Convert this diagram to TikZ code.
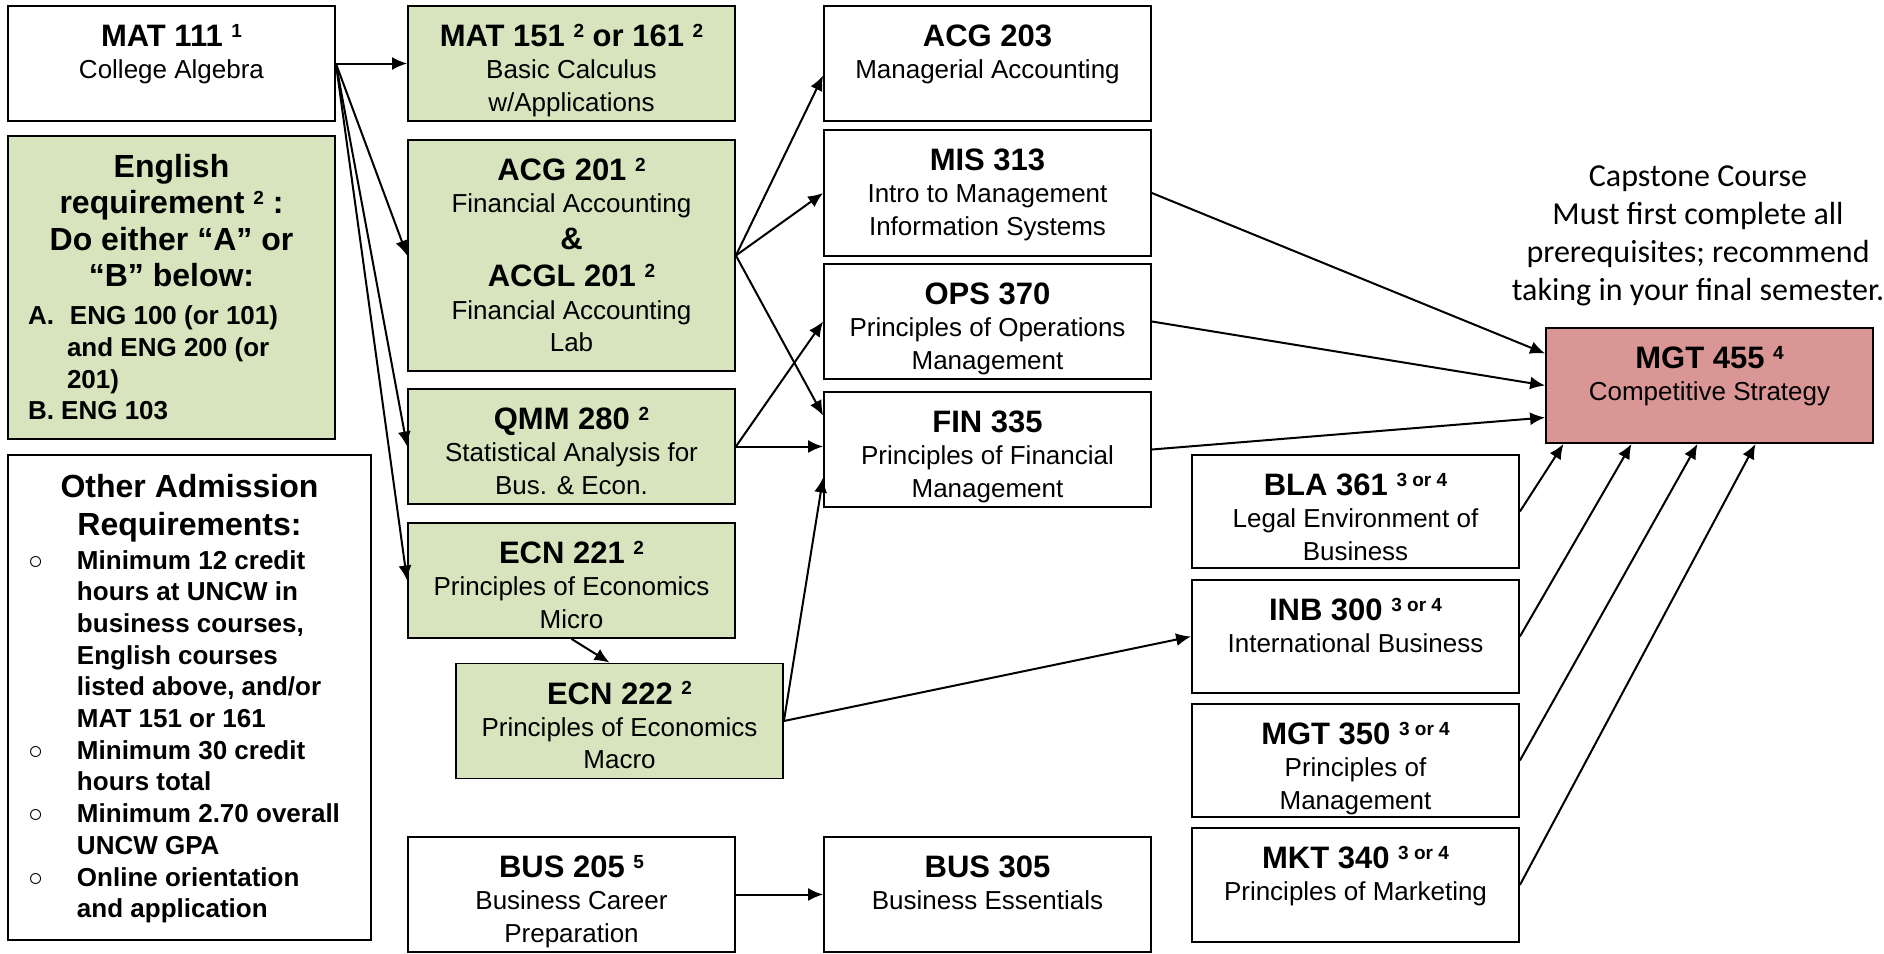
\documentclass[tikz,border=0pt]{standalone}
\usepackage{fontspec}
\setmainfont{Liberation Sans}
\newfontfamily\capfont{Carlito}
\usepackage{tikz}
\usetikzlibrary{arrows.meta}

\definecolor{reqgreen}{HTML}{D7E4BD}
\definecolor{capred}{HTML}{D99694}

% bold course code, superscript note, course box text
\newcommand{\ttl}{\fontsize{15.5}{16.2}\selectfont\bfseries}
\newcommand{\fn}[1]{\ \raisebox{4.6pt}{\fontsize{9.5}{9.5}\selectfont\bfseries #1}}
\newcommand{\course}[3][57.5pt]{\parbox[c][#1][t]{163.5pt}{\centering\fontsize{13}{16.2}\selectfont
  \rule{0pt}{20.25pt}{\ttl #2}\\ #3}}
\newcommand{\blt}{\makebox[24.5pt][l]{\mdseries\fontsize{12.5}{12.5}\selectfont ○}}

\begin{document}
\begin{tikzpicture}[->, >={Latex[length=7.5pt,width=6.5pt]}, line width=1pt, x=0.5pt, y=-0.5pt]
      \tikzstyle{course}=[draw, line width=0.9pt, inner sep=0pt, fill=white]
      \tikzstyle{core}=[course, fill=reqgreen]
      \tikzstyle{capstone}=[course, fill=capred]
      \useasboundingbox (0,0) rectangle (1884,953);

      % first column
      \node[course] (mat111) at (171.5,63.5) {\course{MAT 111\fn{1}}{College Algebra}};
      \node[core] (eng) at (171.5,287.5) {\parbox[c][151.5pt][t]{163.5pt}{\bfseries
        {\centering\fontsize{16}{18.3}\selectfont\rule{0pt}{20.5pt}English\\ requirement\fn{2} :\\ Do either “A” or\\ “B” below:\par}
        {\raggedright\fontsize{13}{15.8}\selectfont\vspace{3.2pt}
        \hspace*{10pt}A.\hspace{8pt}ENG 100 (or 101)\\ \hspace*{29.5pt}and ENG 200 (or\\ \hspace*{29.5pt}201)\\ \hspace*{10pt}B. ENG 103\par}}};
      \node[course] (other) at (189.5,697.5) {\parbox[c][242.5pt][t]{181.5pt}{\bfseries
        {\centering\fontsize{16}{19}\selectfont\rule{0pt}{21pt}Other Admission\\ Requirements:\par}
        {\raggedright\fontsize{13}{15.85}\selectfont\vspace{1.15pt}
        \hspace*{10pt}\blt Minimum 12 credit\\ \hspace*{34.5pt}hours at UNCW in\\ \hspace*{34.5pt}business courses,\\
        \hspace*{34.5pt}English courses\\ \hspace*{34.5pt}listed above, and/or\\ \hspace*{34.5pt}MAT 151 or 161\\
        \hspace*{10pt}\blt Minimum 30 credit\\ \hspace*{34.5pt}hours total\\
        \hspace*{10pt}\blt Minimum 2.70 overall\\ \hspace*{34.5pt}UNCW GPA\\
        \hspace*{10pt}\blt Online orientation\\ \hspace*{34.5pt}and application\par}}};

      % second column
      \node[core] (mat151) at (571.5,63.5) {\course{MAT 151\fn{2} or 161\fn{2}}{Basic Calculus\\ w/Applications}};
      \node[core] (acg201) at (571.5,255.5) {\course[115.5pt]{ACG 201\fn{2}}{Financial Accounting\\[2pt] {\ttl \&}\\[2.5pt] {\ttl ACGL 201\fn{2}}\\ Financial Accounting\\ Lab}};
      \node[core] (qmm280) at (571.5,446.5) {\course{QMM 280\fn{2}}{Statistical Analysis for\\ Bus. \& Econ.}};
      \node[core] (ecn221) at (571.5,580.5) {\course{ECN 221\fn{2}}{Principles of Economics\\ Micro}};
      \node[core] (ecn222) at (619.5,721) {\course{ECN 222\fn{2}}{Principles of Economics\\ Macro}};
      \node[course] (bus205) at (571.5,894.5) {\course{BUS 205\fn{5}}{Business Career\\ Preparation}};

      % third column
      \node[course] (acg203) at (987.5,63.5) {\course{ACG 203}{Managerial Accounting}};
      \node[course] (mis313) at (987.5,193) {\course[63pt]{MIS 313}{Intro to Management\\ Information Systems}};
      \node[course] (ops370) at (987.5,321.5) {\course{OPS 370}{Principles of Operations\\ Management}};
      \node[course] (fin335) at (987.5,449.5) {\course{FIN 335}{Principles of Financial\\ Management}};
      \node[course] (bus305) at (987.5,894.5) {\course{BUS 305}{Business Essentials}};

      % fourth column
      \node[course] (bla361) at (1355.5,511.5) {\course[56.5pt]{BLA 361\fn{3 or 4}}{Legal Environment of\\ Business}};
      \node[course] (inb300) at (1355.5,636.5) {\course[56.5pt]{INB 300\fn{3 or 4}}{International Business}};
      \node[course] (mgt350) at (1355.5,760.5) {\course[56.5pt]{MGT 350\fn{3 or 4}}{Principles of\\ Management}};
      \node[course] (mkt340) at (1355.5,885) {\course[57pt]{MKT 340\fn{3 or 4}}{Principles of Marketing}};

      % capstone
      \node[capstone] (mgt455) at (1709.5,385.5) {\course{MGT 455\fn{4}}{Competitive Strategy}};
      \node[align=center, inner sep=0pt, anchor=north, font={\capfont\fontsize{16}{19}\selectfont}] (capnote) at (1698,165)
        {Capstone Course\\ Must first complete all\\ prerequisites; recommend\\ taking in your final semester.};

      \path
      (mat111.east) edge (mat151.west)
      (mat111.east) edge (acg201.west)
      (mat111.east) edge (qmm280.west)
      (mat111.east) edge (ecn221.west)
      (acg201.east) edge ([yshift=-6pt]acg203.west)
      (acg201.east) edge (mis313.west)
      (acg201.east) edge ([yshift=17pt]fin335.west)
      (qmm280.east) edge (ops370.west)
      (qmm280.east) edge (qmm280.east -| fin335.west)
      (ecn221.south) edge ([xshift=-5pt]ecn222.north)
      (ecn222.east) edge ([yshift=-14pt]fin335.west)
      (ecn222.east) edge (inb300.west)
      (bus205.east) edge (bus305.west)
      (mis313.east) edge ([yshift=16pt]mgt455.west)
      (ops370.east) edge (mgt455.west)
      (fin335.east) edge ([yshift=-16pt]mgt455.west)
      (bla361.east) edge ([xshift=-73pt]mgt455.south)
      (inb300.east) edge ([xshift=-39pt]mgt455.south)
      (mgt350.east) edge ([xshift=-6pt]mgt455.south)
      (mkt340.east) edge ([xshift=23pt]mgt455.south);
\end{tikzpicture}
\end{document}
